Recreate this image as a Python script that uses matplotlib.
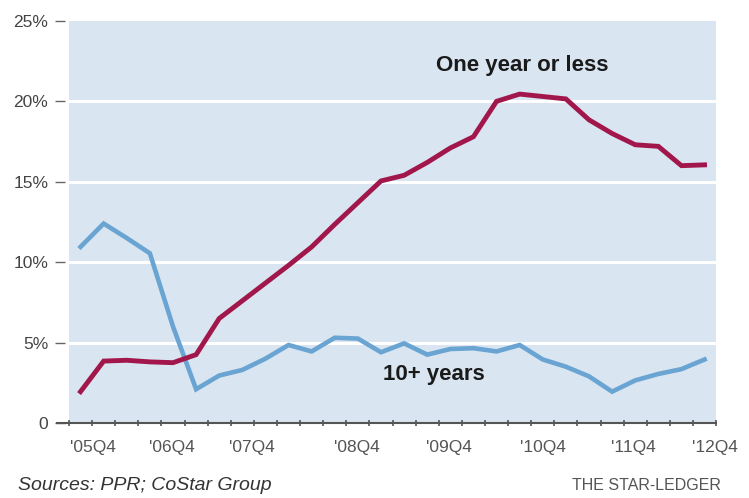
import numpy as np
import matplotlib
matplotlib.use("Agg")
import matplotlib.pyplot as plt

# quarterly share of leases by term
quarters = np.arange(28)
ten_plus = [10.95, 12.4, 11.5, 10.55, 6.0, 2.1, 2.95, 3.3, 4.0, 4.85,
            4.45, 5.3, 5.25, 4.4, 4.95, 4.25, 4.6, 4.65, 4.45, 4.85,
            3.95, 3.5, 2.9, 1.95, 2.65, 3.05, 3.35, 3.95]
one_year = [1.95, 3.85, 3.9, 3.8, 3.75, 4.25, 6.5, 7.6, 8.7, 9.8,
            10.95, 12.35, 13.7, 15.05, 15.4, 16.2, 17.1, 17.8, 20.0, 20.45,
            20.3, 20.15, 18.85, 18.0, 17.3, 17.2, 16.0, 16.05]
year_labels = ["'05Q4", "'06Q4", "'07Q4", "'08Q4", "'09Q4", "'10Q4", "'11Q4", "'12Q4"]
y_ticks = [0, 5, 10, 15, 20, 25]
y_labels = ["0", "5%", "10%", "15%", "20%", "25%"]

# where the newspaper put the year labels (in quarter units)
label_pos = [0.55, 3.95, 7.4, 11.95, 15.95, 20.0, 23.9, 27.45]

plt.rcParams['font.family'] = ['Liberation Sans', 'DejaVu Sans']

fig = plt.figure(figsize=(7.49, 4.98), dpi=100)
ax = fig.add_axes([0.0921, 0.1506, 0.864, 0.8074])
ax.set_facecolor("#d9e5f1")

for v in y_ticks[1:-1]:
    ax.axhline(v, color="white", lw=2.2, zorder=1)

ax.plot(quarters, ten_plus, color="#6aa4d2", lw=3.3, solid_joinstyle="miter", zorder=3)
ax.plot(quarters, one_year, color="#a2174b", lw=3.5, solid_joinstyle="miter", zorder=4)

ax.text(19.1, 22.2, "One year or less", fontsize=16, fontweight="bold", color="#1a1a1a",
        ha="center", va="center")
ax.text(15.3, 3.0, "10+ years", fontsize=16, fontweight="bold", color="#1a1a1a",
        ha="center", va="center")

ax.set_xlim(-0.5, 27.5)
ax.set_ylim(0, 25)

for side in ["left", "top", "right", "bottom"]:
    ax.spines[side].set_visible(False)
ax.spines["left"].set_position(("outward", 3))

ax.set_yticks(y_ticks)
ax.set_yticklabels(y_labels)
ax.tick_params(axis="y", length=7, width=1, color="#666666", pad=5,
               labelsize=12.5, labelcolor="#444444")

ax.set_xticks(label_pos)
ax.set_xticklabels(year_labels)
ax.set_xticks(np.arange(29) - 0.5, minor=True)
ax.tick_params(axis="x", which="major", length=0, pad=12, labelsize=12.5, labelcolor="#555555")
ax.tick_params(axis="x", which="minor", length=5, width=1.2, color="#555555", direction="inout")

# baseline runs a bit left of the plot area
ax.plot([-0.018, 1], [0, 0], transform=ax.transAxes, color="#555555", lw=1.5,
        clip_on=False, zorder=5)

fig.text(0.024, 0.008, "Sources: PPR; CoStar Group", fontsize=14, style="italic",
         color="#333333", ha="left", va="bottom")
fig.text(0.962, 0.01, "THE STAR-LEDGER", fontsize=11.5, color="#555555",
         ha="right", va="bottom")

fig.savefig("out.png", dpi=100)
